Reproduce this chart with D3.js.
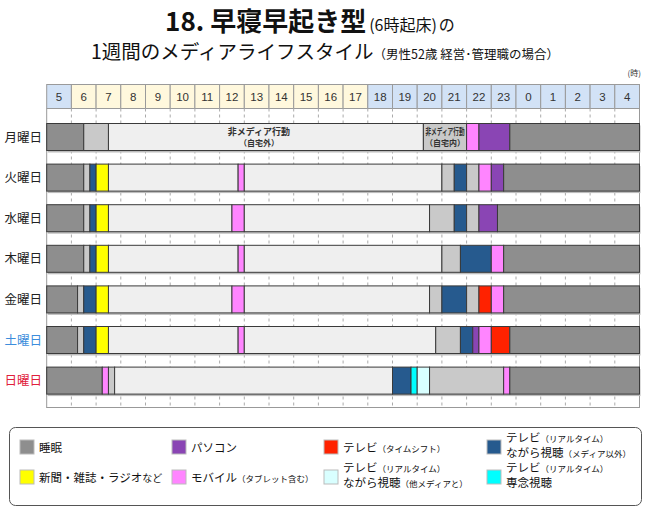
<!DOCTYPE html>
<html><head><meta charset="utf-8">
<script src="https://cdn.jsdelivr.net/npm/d3@7/dist/d3.min.js"></script>
<style>body{margin:0;background:#fff;}svg{display:block;font-family:"Noto Sans CJK JP","Noto Sans",sans-serif;}</style>
</head><body><svg id="c" width="650" height="513"></svg>
<script>
// ---- data ----
const hourLabels = ["5","6","7","8","9","10","11","12","13","14","15","16","17","18","19","20","21","22","23","0","1","2","3","4"];
const dayHours = [6,7,8,9,10,11,12,13,14,15,16,17]; // daytime header cells
const days = ["月曜日","火曜日","水曜日","木曜日","金曜日","土曜日","日曜日"];
const categories = ["sleep","pc","tvShift","tvNagaraOther","print","mobile","tvNagaraMedia","tvFocus","home","out"];
const categoryLabels = {
  sleep:[["睡眠",""]],
  pc:[["パソコン",""]],
  tvShift:[["テレビ","（タイムシフト）"]],
  tvNagaraOther:[["テレビ","（リアルタイム）"],["ながら視聴","（メディア以外）"]],
  print:[["新聞・雑誌・ラジオ","など"]],
  mobile:[["モバイル","（タブレット含む）"]],
  tvNagaraMedia:[["テレビ","（リアルタイム）"],["ながら視聴","（他メディアと）"]],
  tvFocus:[["テレビ","（リアルタイム）"],["専念視聴",""]]
};
// segments: [end hour (5..29), category], each starts where the previous ended (from 5:00)
const mon = [[6.5,"sleep"],[7.5,"home"],[20.25,"out"],[22,"home"],[22.5,"mobile"],[23.75,"pc"],[29,"sleep"]];
const tue = [[6.5,"sleep"],[6.75,"home"],[7,"tvNagaraOther"],[7.5,"print"],[12.75,"out"],[13,"mobile"],[21,"out"],[21.5,"home"],[22,"tvNagaraOther"],[22.5,"home"],[23,"mobile"],[23.5,"pc"],[29,"sleep"]];
const wed = [[6.5,"sleep"],[6.75,"home"],[7,"tvNagaraOther"],[7.5,"print"],[12.5,"out"],[13,"mobile"],[20.5,"out"],[21.5,"home"],[22,"tvNagaraOther"],[22.5,"home"],[23.25,"pc"],[29,"sleep"]];
const thu = [[6.5,"sleep"],[6.75,"home"],[7,"tvNagaraOther"],[7.5,"print"],[12.75,"out"],[13,"mobile"],[21,"out"],[21.75,"home"],[23,"tvNagaraOther"],[23.5,"mobile"],[29,"sleep"]];
const fri = [[6.25,"sleep"],[6.5,"home"],[7,"tvNagaraOther"],[7.5,"print"],[12.5,"out"],[13,"mobile"],[20.5,"out"],[21,"home"],[22,"tvNagaraOther"],[22.5,"home"],[23,"tvShift"],[23.5,"mobile"],[29,"sleep"]];
const sat = [[6.25,"sleep"],[6.5,"home"],[7,"tvNagaraOther"],[7.5,"print"],[12.75,"out"],[13,"mobile"],[20.75,"out"],[21.75,"home"],[22.25,"tvNagaraOther"],[22.5,"pc"],[23,"mobile"],[23.75,"tvShift"],[29,"sleep"]];
const sun = [[7.25,"sleep"],[7.5,"mobile"],[7.75,"home"],[19,"out"],[19.75,"tvNagaraOther"],[20,"tvFocus"],[20.5,"tvNagaraMedia"],[23.5,"home"],[23.75,"mobile"],[29,"sleep"]];
const schedule = [mon,tue,wed,thu,fri,sat,sun];
const monLabels = [[7.5,20.25,"非メディア行動","（自宅外）"],[20.25,22,"非メディア行動","（自宅内）"]];

// ---- style ----
const colors = {sleep:"#8e8e8e",pc:"#8a45b4",tvShift:"#ff2200",tvNagaraOther:"#265a8e",print:"#ffff00",mobile:"#ff85ff",tvNagaraMedia:"#d9ffff",tvFocus:"#00ffff",home:"#c9c9c9",out:"#efefef"};
const dayColors = ["#222","#222","#222","#222","#222","#3d8ddc","#e0203c"];

const svg = d3.select("#c");
const x = d3.scaleLinear().domain([5,29]).range([46.7,639.5]);
const y = d3.scaleBand().domain(days).range([116.7,400.9]).paddingInner(0.335).paddingOuter(0.1675);

// title
const t1 = svg.append("text").attr("x",310).attr("y",31).attr("text-anchor","middle").attr("fill","#111");
t1.append("tspan").attr("font-size",26).attr("font-weight","bold").text("18. 早寝早起き型");
t1.append("tspan").attr("font-size",16).attr("dx",3).text("(6時起床)");
t1.append("tspan").attr("font-size",16).attr("dx",2).text("の");
const t2 = svg.append("text").attr("x",325).attr("y",59).attr("text-anchor","middle").attr("fill","#111");
t2.append("tspan").attr("font-size",19.5).text("1週間のメディアライフスタイル");
t2.append("tspan").attr("font-size",12.5).text("（男性52歳 経営･管理職の場合）");
svg.append("text").attr("x",641).attr("y",76).attr("text-anchor","end").attr("font-size",8).attr("fill","#333").text("(時)");

// header
const hx = d3.range(24).map(i=>i+5);
svg.selectAll("rect.hd").data(hx).join("rect").attr("class","hd")
  .attr("x",d=>x(d)).attr("y",84.5).attr("width",d=>x(d+1)-x(d)).attr("height",24)
  .attr("fill",d=>dayHours.includes(d)?"#fff8dd":"#d2e2f6").attr("stroke","#9a9a9a").attr("stroke-width",1);
svg.selectAll("text.hd").data(hx).join("text").attr("class","hd")
  .attr("x",d=>(x(d)+x(d+1))/2).attr("y",101).attr("text-anchor","middle")
  .attr("font-family","Arial,'Liberation Sans',sans-serif").attr("font-size",11.5).attr("fill","#333")
  .text((d,i)=>hourLabels[i]);

// grid
svg.selectAll("line.g").data(d3.range(6,29)).join("line").attr("class","g")
  .attr("x1",d=>x(d)).attr("x2",d=>x(d)).attr("y1",108.5).attr("y2",407)
  .attr("stroke","#aaa").attr("stroke-dasharray","3,3");
svg.append("line").attr("x1",x(5)).attr("x2",x(5)).attr("y1",108.5).attr("y2",408).attr("stroke","#999");
svg.append("line").attr("x1",x(29)).attr("x2",x(29)).attr("y1",108.5).attr("y2",408).attr("stroke","#999");
svg.append("line").attr("x1",x(5)).attr("x2",x(29)).attr("y1",407.5).attr("y2",407.5).attr("stroke","#999");

// rows
schedule.forEach((segs,i)=>{
  const d = days[i];
  const g = svg.append("g");
  g.append("rect").attr("x",x(5)+1).attr("y",y(d)+2).attr("width",x(29)-x(5)).attr("height",y.bandwidth())
    .attr("fill","#bdbdbd");
  let start = 5;
  const rows = segs.map(s=>{const r={s:start,e:s[0],c:s[1]};start=s[0];return r;});
  g.selectAll("rect.seg").data(rows).join("rect").attr("class","seg")
    .attr("x",r=>x(r.s)).attr("y",y(d)).attr("width",r=>x(r.e)-x(r.s)).attr("height",y.bandwidth())
    .attr("fill",r=>colors[r.c]).attr("stroke","#3a3a3a").attr("stroke-width",1);
  svg.append("text").attr("x",42).attr("y",y(d)+y.bandwidth()/2+4.5).attr("text-anchor","end")
    .attr("font-size",12.5).attr("fill",dayColors[i]).text(d);
});
// in-bar labels (Monday)
monLabels.forEach(([s,e,a,b],k)=>{
  const cx = k===0 ? (x(s)+x(e))/2-7 : (x(s)+x(e))/2;
  const w = x(e)-x(s);
  const ta = svg.append("text").attr("x",cx).attr("y",y(days[0])+11).attr("text-anchor","middle")
    .attr("font-size",9).attr("font-weight","bold").attr("fill","#333").text(a);
  if(k===1) ta.attr("textLength",w-4).attr("lengthAdjust","spacingAndGlyphs");
  svg.append("text").attr("x",cx).attr("y",y(days[0])+22).attr("text-anchor","middle")
    .attr("font-size",8).attr("font-weight","bold").attr("fill","#333").text(b);
});

// legend
svg.append("rect").attr("x",9.5).attr("y",427.5).attr("width",632).attr("height",78).attr("rx",6)
  .attr("fill","#fff").attr("stroke","#555");
const legCols = [20,172,324,487];
const legItems = categories.slice(0,8);
legItems.forEach((c,i)=>{
  const col = i%4, row = Math.floor(i/4);
  const sx = legCols[col], sy = row===0?440:470;
  svg.append("rect").attr("x",sx).attr("y",sy).attr("width",14).attr("height",14)
    .attr("fill",colors[c]).attr("stroke","#bbb");
  const lines = categoryLabels[c];
  lines.forEach((ln,j)=>{
    const ty = lines.length===1 ? sy+11.5 : sy+2+j*14.5;
    const t = svg.append("text").attr("x",sx+19).attr("y",ty).attr("fill","#111");
    t.append("tspan").attr("font-size",11.5).text(ln[0]);
    if(ln[1]) t.append("tspan").attr("font-size",ln[1]==="など"?10:8.5).text(ln[1]);
  });
});
</script></body></html>
